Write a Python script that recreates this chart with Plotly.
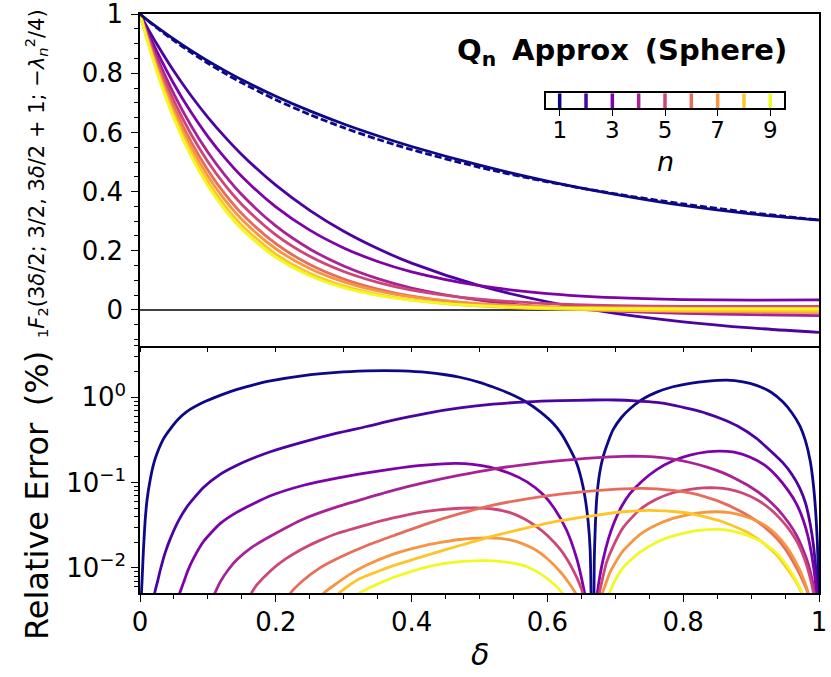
import plotly.graph_objects as go

# ---------------- data ----------------
n_values = [1, 2, 3, 4, 5, 6, 7, 8, 9]
line_colors = ["#0d0887", "#4b03a1", "#7d03a8", "#a82296", "#cc4778",
               "#e66c5c", "#f89540", "#fdc527", "#f0f921"]

# top panel: 1F2(3d/2; 3/2, 3d/2+1; -lambda_n^2/4) vs delta
delta_top = [0, 0.01, 0.025, 0.05, 0.075, 0.1, 0.125, 0.15, 0.2, 0.25, 0.3,
             0.35, 0.4, 0.5, 0.6, 0.7, 0.8, 0.9, 1.0]
exact_n1 = [1, 0.9809, 0.9534, 0.9104, 0.8707, 0.8339, 0.7997, 0.7679, 0.7106,
            0.6604, 0.6162, 0.5769, 0.5419, 0.4821, 0.4332, 0.3925, 0.3583,
            0.3291, 0.3040]
approx_n1 = [1, 0.9815, 0.9561, 0.9154, 0.8774, 0.8418, 0.8091, 0.7783, 0.7224,
             0.6728, 0.6286, 0.5888, 0.5525, 0.4893, 0.4356, 0.3907, 0.3531,
             0.3244, 0.3040]
approx_n2 = [1, 0.9579, 0.8980, 0.8068, 0.7250, 0.6512, 0.5851, 0.5250, 0.4217,
             0.3368, 0.2660, 0.2075, 0.1581, 0.0820, 0.0276, -0.0117, -0.0402,
             -0.0610, -0.0760]
approx_n3 = [1, 0.9472, 0.8736, 0.7640, 0.6688, 0.5860, 0.5139, 0.4510, 0.3482,
             0.2697, 0.2096, 0.1637, 0.1286, 0.0818, 0.0554, 0.0414, 0.0350,
             0.0331, 0.0338]
approx_n4 = [1, 0.9386, 0.8537, 0.7293, 0.6233, 0.5328, 0.4554, 0.3892, 0.2839,
             0.2061, 0.1486, 0.1059, 0.0741, 0.0328, 0.0096, -0.0036, -0.0113,
             -0.0159, -0.0190]
approx_n5 = [1, 0.9326, 0.8403, 0.7067, 0.5949, 0.5012, 0.4225, 0.3564, 0.2539,
             0.1813, 0.1298, 0.0932, 0.0673, 0.0363, 0.0213, 0.0146, 0.0121,
             0.0116, 0.0122]
approx_n6 = [1, 0.9273, 0.8283, 0.6867, 0.5695, 0.4725, 0.3922, 0.3254, 0.2238,
             0.1534, 0.1045, 0.0705, 0.0468, 0.0188, 0.0050, -0.0018, -0.0053,
             -0.0072, -0.0084]
approx_n7 = [1, 0.9232, 0.8192, 0.6717, 0.5512, 0.4526, 0.3719, 0.3057, 0.2068,
             0.1401, 0.0950, 0.0646, 0.0442, 0.0213, 0.0114, 0.0073, 0.0060,
             0.0059, 0.0062]
approx_n8 = [1, 0.9194, 0.8107, 0.6578, 0.5341, 0.4338, 0.3524, 0.2863, 0.1887,
             0.1242, 0.0812, 0.0527, 0.0337, 0.0125, 0.0032, -0.0011, -0.0031,
             -0.0041, -0.0047]
approx_n9 = [1, 0.9163, 0.8038, 0.6467, 0.5207, 0.4195, 0.3382, 0.2727, 0.1775,
             0.1157, 0.0755, 0.0493, 0.0324, 0.0144, 0.0071, 0.0044, 0.0036,
             0.0035, 0.0038]
approx_top = [approx_n1, approx_n2, approx_n3, approx_n4, approx_n5,
              approx_n6, approx_n7, approx_n8, approx_n9]

# bottom panel: relative error (%) vs delta (None separates branches)
err_delta_n1 = [0.0015, 0.003, 0.005, 0.0075, 0.0103, 0.0152, 0.02, 0.025, 0.035, 0.045,
                0.057, 0.069, 0.094, 0.12, 0.143, 0.17, 0.192, 0.241, 0.29, 0.334,
                0.36, 0.385, 0.422, 0.45, 0.471, 0.5, 0.52, 0.545, 0.57, 0.59,
                0.609, 0.62, 0.633, 0.643, 0.65, 0.655, 0.66, 0.663, 0.6667, None,
                0.6667, 0.669, 0.6705, 0.6726, 0.677, 0.682, 0.69, 0.697, 0.709, 0.722,
                0.74, 0.761, 0.785, 0.81, 0.837, 0.864, 0.888, 0.908, 0.93, 0.947,
                0.96, 0.972, 0.98, 0.987, 0.992, 0.996, 0.9985, 1.0]
err_n1 = [0.004, 0.007, 0.016, 0.035, 0.062, 0.11, 0.165, 0.22, 0.33, 0.43,
          0.56, 0.68, 0.88, 1.07, 1.24, 1.42, 1.56, 1.80, 1.96, 2.04,
          2.06, 2.04, 1.96, 1.84, 1.72, 1.50, 1.32, 1.10, 0.87, 0.67,
          0.49, 0.38, 0.25, 0.17, 0.11, 0.07, 0.035, 0.016, 0.0001, None,
          0.0001, 0.012, 0.03, 0.065, 0.13, 0.2, 0.31, 0.42, 0.58, 0.74,
          0.95, 1.15, 1.33, 1.46, 1.55, 1.59, 1.52, 1.38, 1.14, 0.88,
          0.66, 0.46, 0.31, 0.18, 0.09, 0.035, 0.012, 0.0001]

err_delta_n2 = [0.019, 0.0226, 0.026, 0.03, 0.037, 0.0447, 0.057, 0.0692, 0.0938, 0.118,
                0.1429, 0.17, 0.192, 0.241, 0.29, 0.334, 0.373, 0.422, 0.471, 0.52,
                0.57, 0.619, 0.668, 0.7, 0.73, 0.761, 0.785, 0.81, 0.835, 0.859,
                0.88, 0.908, 0.93, 0.947, 0.96, 0.972, 0.98, 0.987, 0.992, 0.996, 1.0]
err_n2 = [0.004, 0.0055, 0.007, 0.0095, 0.015, 0.022, 0.036, 0.052, 0.088, 0.125,
          0.16, 0.198, 0.23, 0.30, 0.38, 0.455, 0.54, 0.65, 0.75, 0.83,
          0.885, 0.915, 0.93, 0.93, 0.91, 0.87, 0.81, 0.73, 0.645, 0.55,
          0.46, 0.33, 0.23, 0.17, 0.125, 0.085, 0.058, 0.033, 0.018, 0.008, 0.0001]

err_delta_n3 = [0.052, 0.059, 0.0643, 0.071, 0.079, 0.0938, 0.118, 0.1429, 0.17, 0.192,
                0.241, 0.29, 0.334, 0.373, 0.41, 0.44, 0.465, 0.49, 0.515, 0.545,
                0.57, 0.594, 0.61, 0.628, 0.643, 0.652, 0.658, 0.6667, None,
                0.6667, 0.672, 0.6736, 0.677, 0.682, 0.69, 0.697, 0.709, 0.7216, 0.74,
                0.761, 0.785, 0.81, 0.835, 0.854, 0.875, 0.898, 0.92, 0.938, 0.955,
                0.967, 0.977, 0.984, 0.99, 0.995, 0.998, 1.0]
err_n3 = [0.004, 0.0052, 0.0068, 0.0095, 0.013, 0.0205, 0.033, 0.045, 0.058, 0.07,
          0.093, 0.113, 0.13, 0.145, 0.158, 0.165, 0.168, 0.164, 0.152, 0.128,
          0.102, 0.072, 0.05, 0.028, 0.013, 0.0065, 0.0035, 0.0001, None,
          0.0001, 0.0035, 0.005, 0.0078, 0.0125, 0.022, 0.032, 0.052, 0.074, 0.105,
          0.142, 0.18, 0.21, 0.229, 0.234, 0.227, 0.2, 0.16, 0.118, 0.08,
          0.056, 0.036, 0.023, 0.013, 0.0065, 0.0026, 0.0001]

err_delta_n4 = [0.104, 0.111, 0.118, 0.13, 0.1429, 0.165, 0.192, 0.241, 0.29, 0.334,
                0.373, 0.422, 0.471, 0.52, 0.57, 0.619, 0.668, 0.712, 0.74, 0.761,
                0.785, 0.81, 0.835, 0.859, 0.88, 0.898, 0.92, 0.938, 0.955, 0.967,
                0.977, 0.984, 0.99, 0.995, 1.0]
err_n4 = [0.004, 0.0052, 0.0068, 0.0095, 0.0125, 0.0175, 0.0235, 0.0375, 0.052, 0.066,
          0.081, 0.101, 0.122, 0.144, 0.164, 0.181, 0.195, 0.203, 0.203, 0.199,
          0.188, 0.172, 0.152, 0.13, 0.108, 0.09, 0.068, 0.05, 0.034, 0.024,
          0.016, 0.0112, 0.0072, 0.0038, 0.0001]

err_delta_n5 = [0.158, 0.165, 0.172, 0.192, 0.215, 0.241, 0.265, 0.29, 0.334, 0.373,
                0.41, 0.44, 0.471, 0.495, 0.52, 0.545, 0.565, 0.584, 0.6, 0.619,
                0.632, 0.643, 0.65, 0.656, 0.6667, None,
                0.6667, 0.672, 0.676, 0.68, 0.687, 0.697, 0.712, 0.736, 0.761, 0.785,
                0.81, 0.83, 0.849, 0.868, 0.888, 0.91, 0.928, 0.945, 0.957, 0.968,
                0.979, 0.986, 0.992, 0.996, 1.0]
err_n5 = [0.004, 0.0052, 0.0063, 0.0092, 0.0128, 0.017, 0.021, 0.0253, 0.032, 0.0385,
          0.0445, 0.048, 0.05, 0.0505, 0.049, 0.0445, 0.038, 0.0305, 0.024, 0.0165,
          0.0115, 0.0078, 0.0057, 0.0038, 0.0001, None,
          0.0001, 0.003, 0.0048, 0.0068, 0.0115, 0.018, 0.03, 0.048, 0.064, 0.076,
          0.083, 0.0865, 0.0866, 0.083, 0.075, 0.062, 0.049, 0.036, 0.0275, 0.02,
          0.0125, 0.0082, 0.005, 0.0025, 0.0001]

err_delta_n6 = [0.214, 0.221, 0.241, 0.265, 0.29, 0.334, 0.373, 0.422, 0.471, 0.52,
                0.57, 0.619, 0.668, 0.712, 0.74, 0.761, 0.785, 0.81, 0.835, 0.859,
                0.88, 0.898, 0.92, 0.938, 0.95, 0.962, 0.972, 0.982, 0.988, 1.0]
err_n6 = [0.004, 0.005, 0.0072, 0.01, 0.0128, 0.0183, 0.0238, 0.0328, 0.0432, 0.0545,
          0.0645, 0.0733, 0.08, 0.0845, 0.0855, 0.0845, 0.081, 0.0755, 0.067, 0.0575,
          0.048, 0.04, 0.03, 0.022, 0.0168, 0.0118, 0.0083, 0.0055, 0.0037, 0.0001]

err_delta_n7 = [0.262, 0.27, 0.29, 0.31, 0.334, 0.373, 0.422, 0.45, 0.471, 0.49,
                0.511, 0.53, 0.545, 0.565, 0.584, 0.6, 0.619, 0.632, 0.643, 0.652,
                0.6667, None,
                0.6667, 0.675, 0.68, 0.685, 0.692, 0.7, 0.712, 0.736, 0.761, 0.785,
                0.81, 0.83, 0.849, 0.868, 0.888, 0.91, 0.928, 0.945, 0.957, 0.968,
                0.977, 0.985, 0.992, 1.0]
err_n7 = [0.004, 0.005, 0.0066, 0.0085, 0.0108, 0.0145, 0.0185, 0.0203, 0.0215, 0.0222,
          0.0225, 0.0222, 0.0213, 0.019, 0.016, 0.0128, 0.009, 0.0066, 0.0048, 0.0033,
          0.0001, None,
          0.0001, 0.0032, 0.0048, 0.0062, 0.0088, 0.0115, 0.016, 0.0245, 0.032, 0.038,
          0.0425, 0.0448, 0.0455, 0.0445, 0.041, 0.035, 0.0285, 0.021, 0.0155, 0.0108,
          0.0075, 0.0048, 0.0025, 0.0001]

err_delta_n8 = [0.28, 0.29, 0.305, 0.324, 0.349, 0.373, 0.422, 0.471, 0.52, 0.57,
                0.619, 0.668, 0.712, 0.74, 0.761, 0.785, 0.81, 0.835, 0.859, 0.88,
                0.898, 0.92, 0.938, 0.953, 0.967, 0.976, 0.985, 1.0]
err_n8 = [0.004, 0.0048, 0.006, 0.0075, 0.009, 0.0106, 0.014, 0.0183, 0.0236, 0.0294,
          0.0357, 0.041, 0.0455, 0.047, 0.047, 0.0458, 0.0435, 0.039, 0.0345, 0.0295,
          0.0252, 0.019, 0.014, 0.0098, 0.0067, 0.0048, 0.003, 0.0001]

err_delta_n9 = [0.31, 0.322, 0.335, 0.349, 0.373, 0.4, 0.422, 0.447, 0.471, 0.495,
                0.52, 0.545, 0.57, 0.59, 0.609, 0.62, 0.63, 0.645, 0.6667, None,
                0.6667, 0.68, 0.69, 0.7, 0.712, 0.736, 0.761, 0.785, 0.81, 0.83,
                0.844, 0.86, 0.883, 0.905, 0.923, 0.94, 0.952, 0.963, 0.972, 0.978,
                0.985, 1.0]
err_n9 = [0.004, 0.005, 0.0057, 0.0064, 0.0077, 0.0091, 0.0102, 0.0112, 0.0118, 0.0121,
          0.0121, 0.0115, 0.0103, 0.0085, 0.0065, 0.0053, 0.0043, 0.0025, 0.0001, None,
          0.0001, 0.003, 0.0048, 0.0072, 0.0102, 0.0152, 0.02, 0.0237, 0.0265, 0.0279,
          0.0283, 0.028, 0.0257, 0.0222, 0.0185, 0.0142, 0.0108, 0.0079, 0.0058, 0.0045,
          0.003, 0.0001]

err_delta = [err_delta_n1, err_delta_n2, err_delta_n3, err_delta_n4, err_delta_n5,
             err_delta_n6, err_delta_n7, err_delta_n8, err_delta_n9]
err_vals = [err_n1, err_n2, err_n3, err_n4, err_n5, err_n6, err_n7, err_n8, err_n9]

x_tick_vals = [0, 0.2, 0.4, 0.6, 0.8, 1.0]
x_tick_text = ["0", "0.2", "0.4", "0.6", "0.8", "1"]
y_top_tick_vals = [0, 0.2, 0.4, 0.6, 0.8, 1.0]
y_top_tick_text = ["0", "0.2", "0.4", "0.6", "0.8", "1"]
y_err_tick_vals = [0.01, 0.1, 1]
y_err_tick_text = ["10<sup>\u22122</sup>", "10<sup>\u22121</sup>", "10<sup>0</sup>"]
y_err_minor_vals = [0.006, 0.007, 0.008, 0.009,
                    0.02, 0.03, 0.04, 0.05, 0.06, 0.07, 0.08, 0.09,
                    0.2, 0.3, 0.4, 0.5, 0.6, 0.7, 0.8, 0.9, 2, 3, 4]
cbar_ticks = [1, 3, 5, 7, 9]
cbar_span = [0, 1]

# ---------------- figure ----------------
W, H = 831, 677
L, R, T, B = 140, 12, 14, 84
plot_h = H - T - B
split = (593 - 346) / plot_h

def px_x(px):
    return (px - L) / (W - L - R)

def px_y(py):
    return (H - B - py) / plot_h

FONT = "DejaVu Sans"
LW = 2.8
fig = go.Figure()

for i, n in enumerate(n_values):
    fig.add_trace(go.Scatter(
        x=delta_top, y=approx_top[i], mode="lines", xaxis="x", yaxis="y",
        line=dict(color=line_colors[i], width=LW, shape="spline", smoothing=0.8),
        showlegend=False, hoverinfo="skip"))

fig.add_trace(go.Scatter(
    x=delta_top, y=exact_n1, mode="lines", xaxis="x", yaxis="y",
    line=dict(color=line_colors[0], width=LW, dash="7px,3px", shape="spline", smoothing=0.8),
    showlegend=False, hoverinfo="skip"))

for i, n in enumerate(n_values):
    fig.add_trace(go.Scatter(
        x=err_delta[i], y=err_vals[i], mode="lines", xaxis="x2", yaxis="y2",
        connectgaps=False,
        line=dict(color=line_colors[i], width=LW, shape="spline", smoothing=0.6),
        showlegend=False, hoverinfo="skip"))

for i, n in enumerate(n_values):
    fig.add_trace(go.Scatter(
        x=[n, n], y=cbar_span, mode="lines", xaxis="x3", yaxis="y3",
        line=dict(color=line_colors[i], width=3.5),
        showlegend=False, hoverinfo="skip"))

common = dict(showline=True, linecolor="black", linewidth=1.5,
              ticks="outside", tickcolor="black", tickwidth=1.3,
              showgrid=False, zeroline=False, automargin=False,
              ticklabeloverflow="allow",
              tickfont=dict(family=FONT, size=26, color="black"))

fig.update_layout(
    width=W, height=H,
    margin=dict(l=L, r=R, t=T, b=B, autoexpand=False),
    plot_bgcolor="white", paper_bgcolor="white",
    xaxis=dict(domain=[0, 1], anchor="y", range=[0, 1], tick0=0, dtick=0.1,
               ticklen=4.5, showticklabels=False, mirror=True, **common),
    yaxis=dict(domain=[split, 1], anchor="x", range=[-0.122, 1.0005],
               tickvals=y_top_tick_vals, ticktext=y_top_tick_text, ticklen=7,
               mirror=True, ticklabelstandoff=3,
               minor=dict(ticks="outside", tick0=0, dtick=0.05, ticklen=4,
                          tickcolor="black", tickwidth=1.2, showgrid=False),
               **common),
    xaxis2=dict(domain=[0, 1], anchor="y2", range=[0, 1],
                tickvals=x_tick_vals, ticktext=x_tick_text, ticklen=7,
                mirror=False, ticklabelstandoff=-2,
                minor=dict(ticks="outside", tick0=0, dtick=0.05, ticklen=4,
                           tickcolor="black", tickwidth=1.2, showgrid=False),
                **common),
    yaxis2=dict(domain=[0, split], anchor="x2", type="log",
                range=[-2.295, 0.602], mirror=True,
                tickvals=y_err_tick_vals, ticktext=y_err_tick_text, ticklen=7,
                minor=dict(ticks="outside", tickvals=y_err_minor_vals, ticklen=4,
                           tickcolor="black", tickwidth=1.2, showgrid=False),
                **common),
    xaxis3=dict(domain=[px_x(546), px_x(784)], anchor="y3", range=[0.48, 9.52],
                tickvals=cbar_ticks, ticklen=6, showline=True, linecolor="black",
                linewidth=1.5, mirror=True, ticks="outside", tickcolor="black",
                tickwidth=1.3, showgrid=False, zeroline=False, automargin=False,
                ticklabelstandoff=-6, ticklabeloverflow="allow",
                tickfont=dict(family=FONT, size=23, color="black")),
    yaxis3=dict(domain=[px_y(108.3), px_y(93.3)], anchor="x3", range=[0, 1],
                showticklabels=False, ticks="", showline=True, linecolor="black",
                linewidth=1.5, mirror=True, showgrid=False, zeroline=False,
                automargin=False),
    shapes=[dict(type="line", xref="x domain", x0=0, x1=1, yref="y", y0=0, y1=0,
                 line=dict(color="black", width=1.5), layer="below")],
    annotations=[
        dict(text="<b>Q<sub>n</sub> \u2009Approx \u2009(Sphere)</b>",
             xref="paper", yref="paper", x=px_x(789), y=px_y(52),
             xanchor="right", yanchor="middle", showarrow=False,
             font=dict(family=FONT, size=29, color="black")),
        dict(text="<i>n</i>", xref="paper", yref="paper", x=px_x(665), y=px_y(161),
             xanchor="center", yanchor="middle", showarrow=False,
             font=dict(family=FONT, size=27, color="black")),
        dict(text="<sub>1</sub><i>F</i><sub>2</sub>(3<i>δ</i>/2; 3/2, 3<i>δ</i>/2 + 1; \u2212<i>λ</i><sub><i>n</i></sub><sup>2</sup>/4)",
             xref="paper", yref="paper", x=px_x(36), y=px_y(174),
             xanchor="center", yanchor="middle", textangle=-90, showarrow=False,
             font=dict(family=FONT, size=21, color="black")),
        dict(text="Relative Error \u2009(%)", xref="paper", yref="paper",
             x=px_x(37), y=px_y(496), xanchor="center", yanchor="middle",
             textangle=-90, showarrow=False,
             font=dict(family=FONT, size=32, color="black")),
        dict(text="<i>δ</i>", xref="paper", yref="paper", x=px_x(480), y=px_y(654),
             xanchor="center", yanchor="middle", showarrow=False,
             font=dict(family=FONT, size=30, color="black")),
    ],
)

fig.write_html(
    "out.html",
    config={"displayModeBar": False},
    post_script="document.body.style.margin='0';document.body.style.overflow='hidden';",
)
